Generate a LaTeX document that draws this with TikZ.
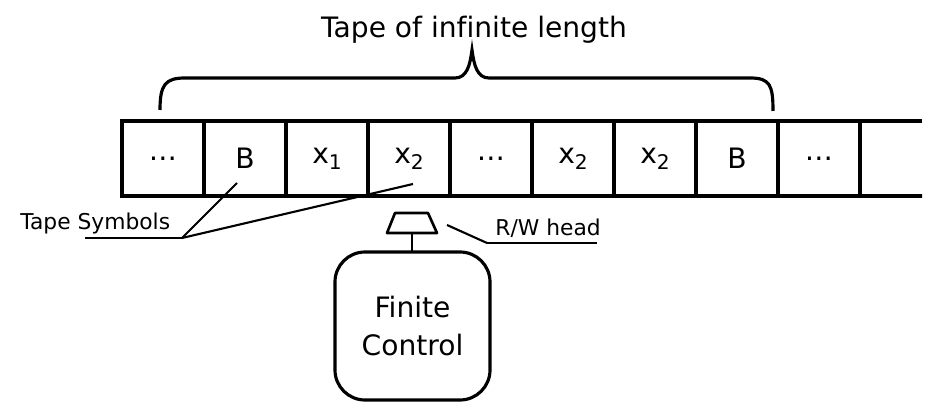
\documentclass[tikz,border=0pt]{standalone}
\usepackage{fontspec}
\setmainfont{DejaVu Sans}[Ligatures=NoCommon]

\newcommand\lowsub[1]{\raisebox{-3.4pt}{\fontsize{11.5pt}{11.5pt}\selectfont #1}}

\begin{document}
\begin{tikzpicture}[
	cell/.style={shape=rectangle, draw=black, line width=2.2pt, minimum width=1.64cm, minimum height=1.5cm, inner sep=0pt, outer sep=0pt, font=\fontsize{16pt}{19pt}\selectfont},
	note/.style={inner sep=0pt, anchor=base west, font=\fontsize{12.4pt}{15pt}\selectfont},
	wire/.style={line width=1.2pt},
]
	\useasboundingbox (0,0) rectangle (18.82,8.2);

	% the tape
	\node[cell] (c0) at (3.26,5.03)  {\dots};
	\node[cell] (c1) at (4.90,5.03)  {B};
	\node[cell] (c2) at (6.54,5.03)  {x\lowsub{1}};
	\node[cell] (c3) at (8.18,5.03)  {x\lowsub{2}};
	\node[cell] (c4) at (9.82,5.03)  {\dots};
	\node[cell] (c5) at (11.46,5.03) {x\lowsub{2}};
	\node[cell] (c6) at (13.10,5.03) {x\lowsub{2}};
	\node[cell] (c7) at (14.74,5.03) {B};
	\node[cell] (c8) at (16.38,5.03) {\dots};

	\coordinate (topend) at (18.44,5.78);
	\coordinate (botend) at (18.44,4.28);
	\path [-, line width=2.2pt] (c8.north east) edge (topend);
	\path [-, line width=2.2pt] (c8.south east) edge (botend);

	% brace and title
	\draw [line width=1.8pt] (3.2,6.0) .. controls (3.2,6.5) and (3.3,6.64) .. (3.7,6.64)
		-- (9.1,6.64) .. controls (9.34,6.64) and (9.4,6.9) .. (9.44,7.2)
		.. controls (9.48,6.9) and (9.54,6.64) .. (9.78,6.64)
		-- (15.0,6.64) .. controls (15.4,6.64) and (15.46,6.5) .. (15.46,5.98);
	\node[anchor=base, inner sep=0pt, font=\fontsize{16pt}{19pt}\selectfont] (title) at (9.48,7.44) {Tape of infinite length};

	% tape symbols
	\node[note] (symbols) at (0.40,3.60) {Tape Symbols};
	\coordinate (ts-l) at (1.70,3.44);
	\coordinate (ts-r) at (3.64,3.44);
	\coordinate (symB) at (4.74,4.54);
	\coordinate (symX) at (8.26,4.52);
	\path [-, wire] (ts-l) edge (ts-r);
	\path [-, wire] (ts-r) edge (symB);
	\path [-, wire] (ts-r) edge (symX);

	% head and finite control
	\draw [line width=1.5pt, line join=round] (7.74,3.54) -- (8.74,3.54) -- (8.56,3.94) -- (7.90,3.94) -- cycle;
	\coordinate (head) at (8.24,3.54);
	\node[shape=rectangle, draw=black, line width=1.8pt, rounded corners=0.6cm, minimum width=3.1cm,
		minimum height=2.96cm, outer sep=0pt, align=center, font=\fontsize{16pt}{22pt}\selectfont] (fc) at (8.25,1.68) {Finite\\Control};
	\path [-, line width=1.5pt] (head) edge (head |- fc.north);

	% read/write head label
	\node[note] (rw) at (9.90,3.48) {R/W head};
	\coordinate (rw-tip) at (8.94,3.70);
	\coordinate (rw-l) at (9.74,3.34);
	\coordinate (rw-r) at (11.94,3.34);
	\path [-, wire] (rw-tip) edge (rw-l);
	\path [-, wire] (rw-l) edge (rw-r);
\end{tikzpicture}
\end{document}
